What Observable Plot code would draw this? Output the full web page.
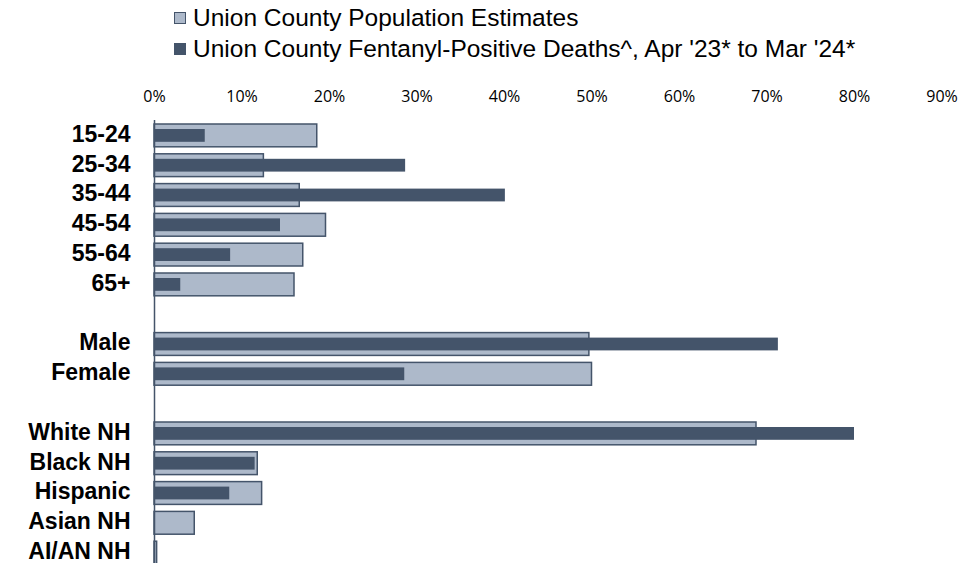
<!DOCTYPE html>
<html>
<head>
<meta charset="utf-8">
<script src="https://cdn.jsdelivr.net/npm/d3@7"></script>
<script src="https://cdn.jsdelivr.net/npm/@observablehq/plot@0.6"></script>
<style>
  html, body { margin: 0; padding: 0; background: #fff; }
  #wrap { position: relative; width: 980px; height: 563px; overflow: hidden; }
  #legend { position: relative; width: 980px; height: 66px; font-family: "Liberation Sans", Arial, sans-serif; font-size: 24.5px; color: #000; }
  .item { position: absolute; left: 174px; display: flex; align-items: center; white-space: nowrap; }
  .sw { width: 12px; height: 12px; box-sizing: border-box; margin-right: 7px; }
  svg [aria-label="x-axis tick label"] text { font-family: "Open Sans", sans-serif; font-size: 16px; fill: #000; }
  svg [aria-label="y-axis tick label"] text { font-family: "Liberation Sans", Arial, sans-serif; font-size: 23px; font-weight: bold; fill: #000; }
</style>
</head>
<body>
<div id="wrap">
  <div id="legend"></div>
  <div id="chart"></div>
</div>
<script>
const categories = ["15-24","25-34","35-44","45-54","55-64","65+"," ","Male","Female","  ","White NH","Black NH","Hispanic","Asian NH","AI/AN NH"];
const populationPct = [18.6, 12.5, 16.6, 19.6, 17.0, 16.0, null, 49.7, 50.0, null, 68.8, 11.8, 12.3, 4.6, 0.3];
const deathsPct     = [5.8, 28.7, 40.1, 14.4, 8.7, 3.0, null, 71.3, 28.6, null, 80.0, 11.5, 8.6, 0, 0];
const seriesNames = ["Union County Population Estimates", "Union County Fentanyl-Positive Deaths^, Apr '23* to Mar '24*"];
const xTicks = [0, 10, 20, 30, 40, 50, 60, 70, 80, 90];

const popColor = "#adb9ca", darkColor = "#44546a";

// legend
const legend = document.getElementById("legend");
seriesNames.forEach((name, i) => {
  const it = document.createElement("div");
  it.className = "item";
  it.style.top = (i === 0 ? 4 : 35) + "px";
  const sw = document.createElement("div");
  sw.className = "sw";
  sw.style.background = i === 0 ? popColor : darkColor;
  sw.style.border = "1px solid " + darkColor;
  const tx = document.createElement("span");
  tx.textContent = name;
  it.appendChild(sw); it.appendChild(tx);
  legend.appendChild(it);
});

const popRows = categories.map((c, i) => ({cat: c, v: populationPct[i]})).filter(d => d.v != null);
const deathRows = categories.map((c, i) => ({cat: c, v: deathsPct[i]})).filter(d => d.v != null && d.v > 0);

const chart = Plot.plot({
  width: 980,
  height: 497,
  marginLeft: 154,
  marginRight: 38.5,
  marginTop: 54,
  marginBottom: 0,
  x: {domain: [0, 90]},
  y: {domain: categories, range: [54.5, 501.5], padding: 0, round: false},
  marks: [
    Plot.barX(popRows, {x: "v", y: "cat", fill: popColor, stroke: darkColor, strokeWidth: 1.5, insetTop: 3.5, insetBottom: 3.5}),
    Plot.barX(deathRows, {x: "v", y: "cat", fill: darkColor, insetTop: 8.5, insetBottom: 8.5}),
    Plot.ruleX([0], {stroke: darkColor, strokeWidth: 1.5}),
    Plot.axisX({anchor: "top", ticks: xTicks, tickSize: 0, tickPadding: 19, tickFormat: d => d + "%", label: null}),
    Plot.axisY({tickSize: 0, tickPadding: 24, dy: -1.5, tickFormat: d => d.trim(), label: null})
  ]
});
document.getElementById("chart").appendChild(chart);
</script>
</body>
</html>
